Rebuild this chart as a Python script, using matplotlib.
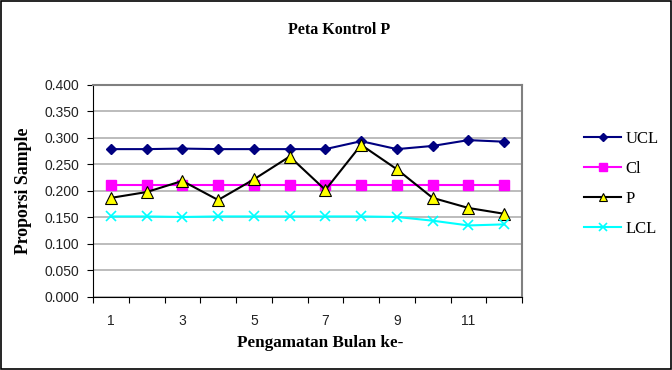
import numpy as np
import matplotlib
matplotlib.use("Agg")
import matplotlib.pyplot as plt
from matplotlib.patches import Rectangle

# data
bulan = list(range(1, 13))
ucl = [0.279, 0.279, 0.280, 0.279, 0.279, 0.279, 0.279, 0.294, 0.279, 0.285, 0.296, 0.293]
cl = [0.211] * 12
p = [0.187, 0.198, 0.219, 0.183, 0.222, 0.265, 0.202, 0.287, 0.241, 0.187, 0.168, 0.157]
lcl = [0.152, 0.152, 0.151, 0.152, 0.152, 0.152, 0.152, 0.152, 0.151, 0.144, 0.135, 0.137]

serif = "Liberation Serif"
sans = "Liberation Sans"

fig = plt.figure(figsize=(6.72, 3.70), dpi=100)
fig.patches.append(Rectangle((0.002, 0.003), 0.996, 0.994, transform=fig.transFigure,
                             fill=False, edgecolor="black", lw=1.2))

ax = fig.add_axes([0.1384, 0.1973, 0.6384, 0.573])
x = np.arange(len(bulan))

ax.plot(x, ucl, color="#000080", marker="D", ms=5, lw=1.5, label="UCL")
ax.plot(x, cl, color="#FF00FF", marker="s", ms=7, lw=1.5, label="Cl")
ax.plot(x, p, color="black", marker="^", ms=8, mfc="#FFFF00", mec="black", mew=0.8,
        lw=1.5, label="P")
ax.plot(x, lcl, color="#00FFFF", marker="x", ms=7, mew=1.2, lw=1.5, label="LCL")

ax.set_ylim(0, 0.4)
yt = np.arange(0, 0.401, 0.05)
ax.set_yticks(yt)
ax.set_yticklabels([f"{v:.3f}" for v in yt], fontfamily=sans, fontsize=10, color="#222222")
ax.yaxis.grid(True, color="#b0b0b0", lw=1.2)
ax.set_axisbelow(True)

ax.set_xlim(-0.5, len(bulan) - 0.5)
ax.set_xticks(np.arange(-0.5, len(bulan), 1.0))
ax.set_xticklabels([])
ax.set_xticks(x[::2], minor=True)
ax.set_xticklabels([str(b) for b in bulan[::2]], minor=True, fontfamily=sans, fontsize=10,
                   color="#222222")
ax.tick_params(axis="x", which="minor", length=0, pad=12)
ax.tick_params(axis="both", which="major", direction="out", length=4, color="black")
ax.tick_params(axis="y", pad=6)

for s in ["top", "right"]:
    ax.spines[s].set_color("#808080")
    ax.spines[s].set_linewidth(1.5)
for s in ["left", "bottom"]:
    ax.spines[s].set_color("black")

fig.text(320 / 672, 1 - 343 / 370, "Pengamatan Bulan ke-", ha="center", va="center",
         fontfamily=serif, fontweight="bold", fontsize=12.3)
ax.set_ylabel("Proporsi Sample", fontfamily=serif, fontweight="bold", fontsize=12.8,
              labelpad=9)
fig.text(0.505, 0.918, "Peta Kontrol P", ha="center", va="center",
         fontfamily=serif, fontweight="bold", fontsize=11.5)

ax.legend(loc="upper left", bbox_to_anchor=(1.11, 0.855), frameon=False,
          prop={"family": serif, "size": 12}, handlelength=2.2, labelspacing=0.85,
          handletextpad=0.3, markerscale=0.8)

fig.savefig("out.png", dpi=100)
